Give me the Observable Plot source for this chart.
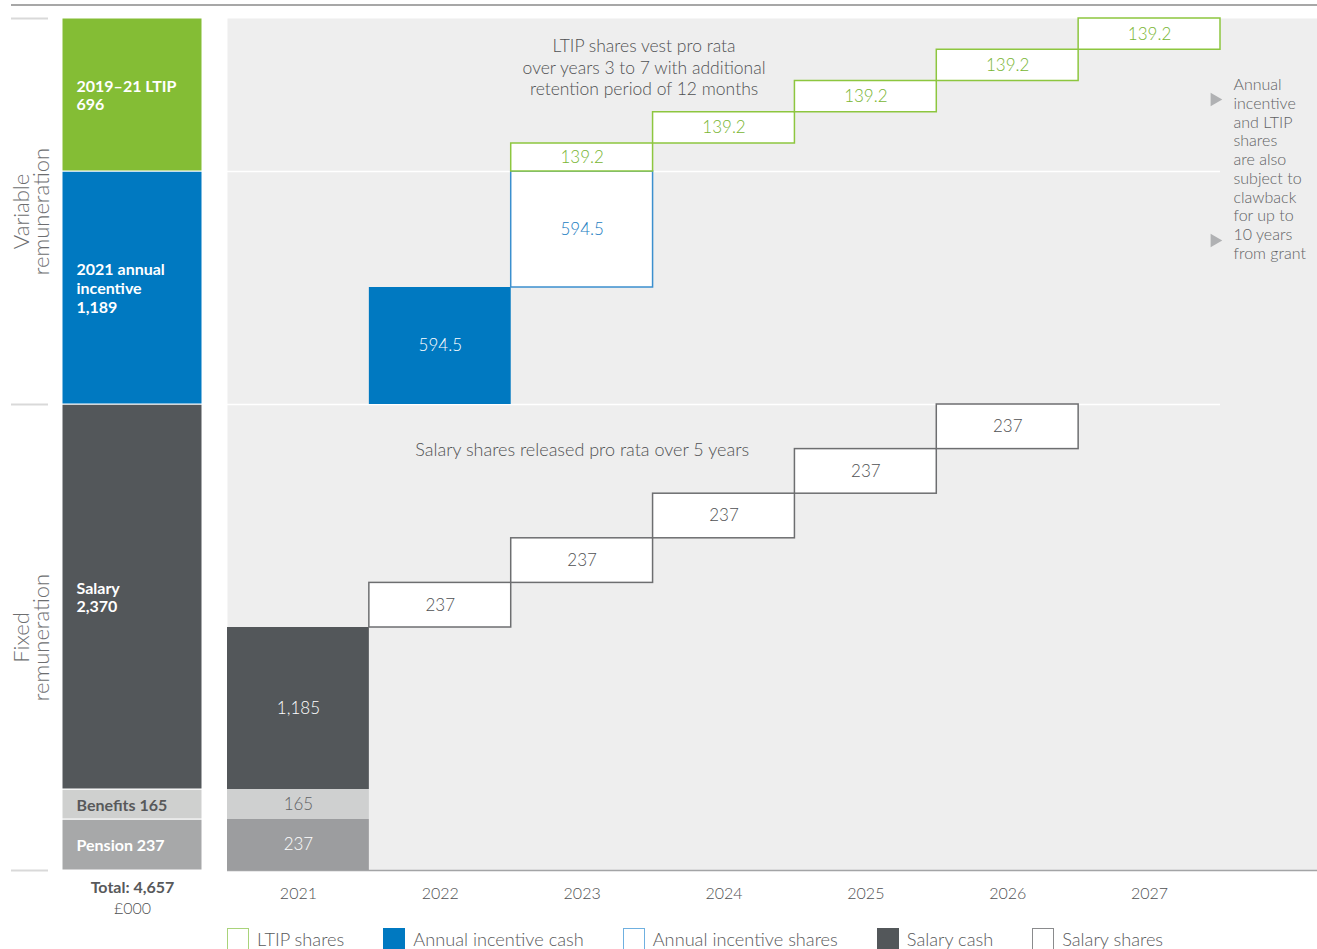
<!DOCTYPE html>
<html><head><meta charset="utf-8">
<script src="https://cdn.jsdelivr.net/npm/d3@7"></script>
<script src="https://cdn.jsdelivr.net/npm/@observablehq/plot@0.6"></script>
<style>
body{margin:0;background:#fff;font-family:Lato,"Noto Sans",sans-serif;}
#legend{display:flex;margin-left:227px;margin-top:2px;font-size:18.2px;color:#58595b;}
.item{display:flex;align-items:center;margin-right:39px;}
.sw{width:22px;height:22px;margin-right:8px;box-sizing:border-box;}
</style></head><body>
<div id="chart"></div>
<div id="legend"></div>
<script>
// ---------- data ----------
const years = [2021, 2022, 2023, 2024, 2025, 2026, 2027];

const totalParts  = ["Pension", "Benefits", "Salary", "Annual incentive", "LTIP"];
const totalValues = [237, 165, 2370, 1189, 696];
const totalLabels = ["Pension 237", "Benefits 165", "Salary\n2,370", "2021 annual\nincentive\n1,189", "2019–21 LTIP\n696"];

const segYears  = [2021, 2021, 2021, 2022, 2023, 2024, 2025, 2026, 2022, 2023, 2023, 2024, 2025, 2026, 2027];
const segTypes  = ["Pension", "Benefits", "Salary cash",
  "Salary shares", "Salary shares", "Salary shares", "Salary shares", "Salary shares",
  "Annual incentive cash", "Annual incentive shares",
  "LTIP shares", "LTIP shares", "LTIP shares", "LTIP shares", "LTIP shares"];
const segValues = [237, 165, 1185, 237, 237, 237, 237, 237, 594.5, 594.5, 139.2, 139.2, 139.2, 139.2, 139.2];

const legendLabels = ["LTIP shares", "Annual incentive cash", "Annual incentive shares", "Salary cash", "Salary shares"];
const sectionLabels = ["Variable\nremuneration", "Fixed\nremuneration"];
const ltipNote = "LTIP shares vest pro rata\nover years 3 to 7 with additional\nretention period of 12 months";
const salaryNote = "Salary shares released pro rata over 5 years";
const clawbackNote = "Annual\nincentive\nand LTIP\nshares\nare also\nsubject to\nclawback\nfor up to\n10 years\nfrom grant";
const totalCaption = "Total: 4,657";
const unitCaption = "£000";

// ---------- tables ----------
let acc = 0;
const totalRows = totalParts.map((p, i) => { const r = {part: p, y1: acc, y2: acc + totalValues[i], label: totalLabels[i]}; acc += totalValues[i]; return r; });
let acc2 = 0;
const segRows = segYears.map((yr, i) => { const r = {year: yr, type: segTypes[i], value: segValues[i], y1: acc2, y2: acc2 + segValues[i]}; acc2 += segValues[i]; return r; });

// ---------- styles ----------
const segStyle = {
  "Pension": {fill: "#9c9d9f", stroke: "none", text: "#ffffff"},
  "Benefits": {fill: "#cfd0d0", stroke: "none", text: "#616264"},
  "Salary cash": {fill: "#53575a", stroke: "none", text: "#ffffff"},
  "Salary shares": {fill: "#ffffff", stroke: "#6d6e70", text: "#505153"},
  "Annual incentive cash": {fill: "#0079c1", stroke: "none", text: "#ffffff"},
  "Annual incentive shares": {fill: "#ffffff", stroke: "#3b8fce", text: "#1a7cc1"},
  "LTIP shares": {fill: "#ffffff", stroke: "#8dc63f", text: "#78b532"}
};
const totalStyle = {
  "Pension": {fill: "#a7a8a9", text: "#ffffff"},
  "Benefits": {fill: "#cfd0cf", text: "#58595b"},
  "Salary": {fill: "#53575a", text: "#ffffff"},
  "Annual incentive": {fill: "#0079c1", text: "#ffffff"},
  "LTIP": {fill: "#84bd35", text: "#ffffff"}
};
const legendStyle = [
  {bg: "#fff", border: "1.5px solid #a9d37a"},
  {bg: "#0079c1", border: "none"},
  {bg: "#fff", border: "1.5px solid #6fb0e0"},
  {bg: "#53575a", border: "none"},
  {bg: "#fff", border: "1.5px solid #8a8b8d"}
];

// ---------- scales (piecewise, infographic-style) ----------
const yBreaks = [0, ...[0, 1, 2, 7, 8, 9, 10, 14].map(i => segRows[i].y2)];
const yPix = [870, 819, 789, 627, 404, 287, 171, 143, 18];
const xBreaks = [2018, 2018.7, 2019, 2020, 2020.5, 2027.5, 2028.5];
const xPix = [11, 48, 62, 202, 227, 1220, 1317];
const TOTAL_X1 = 2019, TOTAL_X2 = 2020, PANEL_X1 = 2020.5, PANEL_X2 = 2028.5, GUIDE_X1 = 2018, GUIDE_X2 = 2018.7;

const yS = Plot.scale({y: {type: "linear", domain: yBreaks, range: yPix}});
const midY = (a, b) => yS.invert((yS.apply(a) + yS.apply(b)) / 2);
const fmt = d3.format(",");
const yTop = yBreaks[yBreaks.length - 1];
const ySalaryEnd = segRows[7].y2;
const yAIEnd = segRows[9].y2;
const varMid = midY(ySalaryEnd, yTop);
const fixMid = midY(0, ySalaryEnd);

const marks = [
  Plot.frame({fill: "#eeeeee", stroke: null}),
  Plot.ruleY([yTop], {x1: GUIDE_X1, x2: PANEL_X2, dy: -13.5, stroke: "#8a8a8a", strokeWidth: 1.5}),
  Plot.ruleY([0, ySalaryEnd, yTop], {x1: GUIDE_X1, x2: GUIDE_X2, stroke: "#d9d9d9", strokeWidth: 2}),
  Plot.ruleY([ySalaryEnd, yAIEnd], {x1: PANEL_X1, x2: 2027.5, stroke: "#ffffff", strokeWidth: 1.5}),
  Plot.ruleY([0], {x1: PANEL_X1, x2: PANEL_X2, stroke: "#a3a4a6", strokeWidth: 1.5}),
];

// left total bar
for (const p of totalParts) {
  const rows = totalRows.filter(d => d.part === p);
  marks.push(Plot.rect(rows, {x1: TOTAL_X1, x2: TOTAL_X2, y1: "y1", y2: "y2", fill: totalStyle[p].fill, stroke: "#ffffff", strokeWidth: 1}));
  marks.push(Plot.text(rows, {x: TOTAL_X1, dx: 14, y: d => midY(d.y1, d.y2), text: "label", textAnchor: "start",
    fontWeight: 700, fontSize: 16, lineHeight: 1.18, fill: totalStyle[p].text}));
}

// waterfall
for (const t of Object.keys(segStyle)) {
  const rows = segRows.filter(d => d.type === t);
  const s = segStyle[t];
  marks.push(Plot.rect(rows, {x1: d => d.year - 0.5, x2: d => d.year + 0.5, y1: "y1", y2: "y2",
    fill: s.fill, stroke: s.stroke, strokeWidth: 1.5}));
  marks.push(Plot.text(rows, {x: "year", y: d => midY(d.y1, d.y2), text: d => fmt(d.value), fill: s.text, fontSize: 17, fontWeight: 300}));
}

marks.push(
  Plot.text(sectionLabels, {x: 2018.4, y: (d, i) => i === 0 ? varMid : fixMid, text: d => d, rotate: -90,
    fontSize: 22, lineHeight: 0.93, fill: "#6d6e70", fontWeight: 300}),
  Plot.text([ltipNote], {x: 2023.5, dx: -9, y: yTop, dy: 18, text: d => d, lineAnchor: "top", fontSize: 17.5, lineHeight: 1.24, fill: "#505153", fontWeight: 300}),
  Plot.text([salaryNote], {x: 2023, y: ySalaryEnd, dy: 46, text: d => d, fontSize: 18, fill: "#505153", fontWeight: 300}),
  Plot.text([clawbackNote], {x: 2027.5, dx: 13, y: yAIEnd, dy: -3, text: d => d, textAnchor: "start", fontSize: 16, lineHeight: 1.17, fill: "#616264", fontWeight: 300}),
  Plot.dot([0], {x: 2027.5, dx: -6, y: yAIEnd, dy: -72, symbol: "triangle", r: 5, rotate: 90, fill: "#b0b1b3"}),
  Plot.dot([0], {x: 2027.5, dx: -6, y: yAIEnd, dy: 69, symbol: "triangle", r: 5, rotate: 90, fill: "#b0b1b3"}),
  Plot.text([totalCaption], {x: (TOTAL_X1 + TOTAL_X2) / 2, y: 0, dy: 11, lineAnchor: "top", text: d => d, fontWeight: 700, fontSize: 16, fill: "#58595b"}),
  Plot.text([unitCaption], {x: (TOTAL_X1 + TOTAL_X2) / 2, y: 0, dy: 32, lineAnchor: "top", text: d => d, fontSize: 16, fill: "#505153", fontWeight: 300}),
  Plot.axisX({ticks: years, tickFormat: d => String(d), tickSize: 0, tickPadding: 17, fontSize: 16, color: "#505153", label: null, fontWeight: 300})
);

const chart = Plot.plot({
  width: 1317, height: 926,
  marginLeft: 227, marginRight: 0, marginTop: 18, marginBottom: 56,
  x: {type: "linear", domain: xBreaks, range: xPix, axis: null, label: null},
  y: {type: "linear", domain: yBreaks, range: yPix, axis: null},
  style: {fontFamily: "Lato, 'Noto Sans', sans-serif", background: "#fff"},
  marks
});
document.getElementById("chart").appendChild(chart);

const lg = d3.select("#legend");
legendLabels.forEach((l, i) => {
  const it = lg.append("div").attr("class", "item");
  it.append("div").attr("class", "sw").style("background", legendStyle[i].bg).style("border", legendStyle[i].border);
  it.append("span").style("font-weight", 300).text(l);
});
</script>
</body></html>
